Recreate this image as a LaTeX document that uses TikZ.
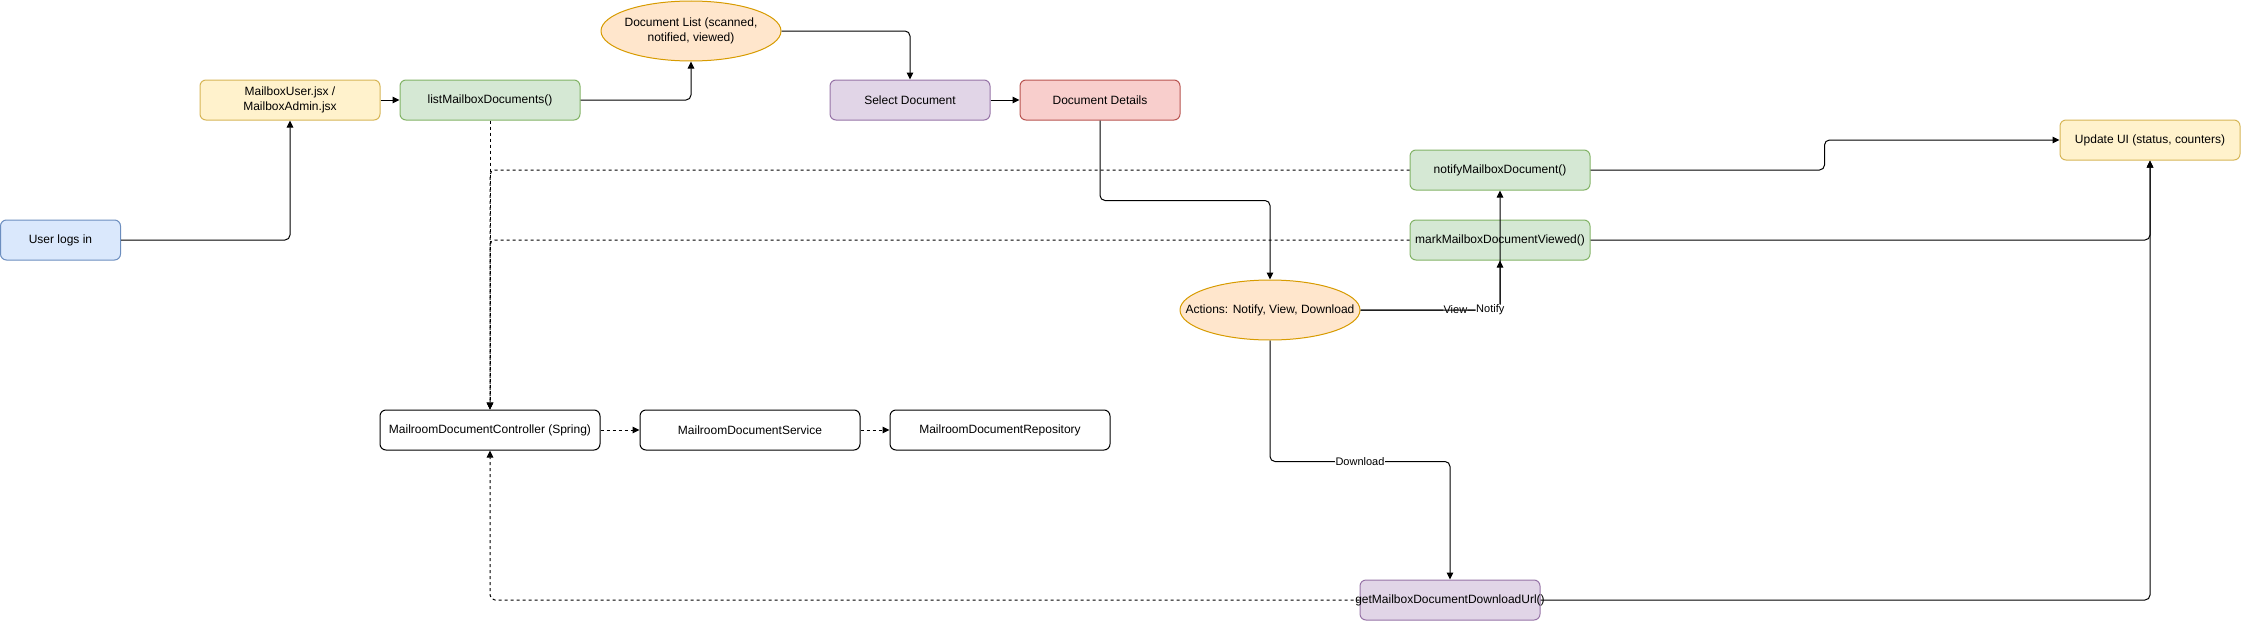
\documentclass[tikz,border=0pt]{standalone}
\usepackage{fontspec}
\setmainfont{Liberation Sans}
\usetikzlibrary{arrows.meta,shapes.geometric,calc}
\definecolor{blueF}{HTML}{DAE8FC}\definecolor{blueD}{HTML}{6C8EBF}
\definecolor{yelF}{HTML}{FFF2CC}\definecolor{yelD}{HTML}{D6B656}
\definecolor{grnF}{HTML}{D5E8D4}\definecolor{grnD}{HTML}{82B366}
\definecolor{orgF}{HTML}{FFE6CC}\definecolor{orgD}{HTML}{D79B00}
\definecolor{purF}{HTML}{E1D5E7}\definecolor{purD}{HTML}{9673A6}
\definecolor{redF}{HTML}{F8CECC}\definecolor{redD}{HTML}{B85450}
\begin{document}
\begin{tikzpicture}[x=1pt,y=-1pt,
  font=\fontsize{12}{14.5}\selectfont,
  box/.style={rectangle, rounded corners=6pt, line width=1pt, minimum height=40pt,
    minimum width=180pt, inner sep=0pt, align=center},
  oval/.style={ellipse, line width=1pt, minimum width=180pt, minimum height=60pt,
    inner sep=0pt, fill=orgF, draw=orgD, align=center},
  bluebox/.style={box, fill=blueF, draw=blueD},
  yelbox/.style={box, fill=yelF, draw=yelD},
  grnbox/.style={box, fill=grnF, draw=grnD},
  purbox/.style={box, fill=purF, draw=purD},
  redbox/.style={box, fill=redF, draw=redD},
  whtbox/.style={box, fill=white, draw=black, minimum width=220pt},
  conn/.style={line width=1pt, rounded corners=5pt, -{Triangle[length=7pt,width=6.5pt]}},
  dconn/.style={conn, dash pattern=on 3pt off 3pt},
  lbl/.style={fill=white, inner sep=0.5pt, font=\fontsize{11}{13}\selectfont}]
\useasboundingbox (0,0) rectangle (2241,621);

% nodes
\node[bluebox, minimum width=120pt] (user) at (60.5,240) {User logs in};
\node[yelbox] (mb) at (290,100) {MailboxUser.jsx /\\MailboxAdmin.jsx};
\node[grnbox] (list) at (490,100) {listMailboxDocuments()};
\node[oval] (doclist) at (691,31) {\makebox[0pt]{\begin{tabular}{@{}c@{}}Document List (scanned,\\notified, viewed)\end{tabular}}};
\node[purbox, minimum width=160pt] (sel) at (910,100) {Select Document};
\node[redbox, minimum width=160pt] (det) at (1100,100) {Document Details};
\node[grnbox] (notify) at (1500,170) {notifyMailboxDocument()};
\node[grnbox] (mark) at (1500,240) {\makebox[0pt]{markMailboxDocumentViewed()}};
\node[yelbox] (ui) at (2150,140) {Update UI (status, counters)};
\node[oval] (act) at (1270,310) {\makebox[0pt]{Actions: Notify, View, Download}};
\node[whtbox] (ctrl) at (490,430) {MailroomDocumentController (Spring)};
\node[whtbox] (svc) at (750,430) {MailroomDocumentService};
\node[whtbox] (repo) at (1000,430) {MailroomDocumentRepository};
\node[purbox] (get) at (1450,600) {\makebox[0pt]{getMailboxDocumentDownloadUrl()}};

% solid connectors
\draw[conn] (user.east) -| (mb.south);
\draw[conn] (mb.east) -- (list.west);
\draw[conn] (list.east) -| (doclist.south);
\draw[conn] (doclist.east) -| (sel.north);
\draw[conn] (sel.east) -- (det.west);
\draw[conn] (det.south) -- ++(0,80) -| (act.north);
\draw[conn] (act.east) -- node[lbl, pos=0.68]{View} (act.east -| mark.south) -- (mark.south);
\draw[conn] (act.east) -- node[lbl, pos=0.93]{Notify} (act.east -| notify.south) -- (notify.south);
\draw[conn] (act.south) -- ++(0,121) -- node[lbl, pos=0.5]{Download} ++(180,0) -- (get.north);
\draw[conn] (notify.east) -- ++(234,0) |- (ui.west);
\draw[conn] (mark.east) -| (ui.south);
\draw[conn] (get.east) -| (ui.south);

% dashed connectors
\draw[dconn] (list.south) -- (ctrl.north);
\draw[dconn] (notify.west) -| (ctrl.north);
\draw[dconn] (mark.west) -| (ctrl.north);
\draw[dconn] (get.west) -| (ctrl.south);
\draw[dconn] (ctrl.east) -- (svc.west);
\draw[dconn] (svc.east) -- (repo.west);
\end{tikzpicture}
\end{document}
